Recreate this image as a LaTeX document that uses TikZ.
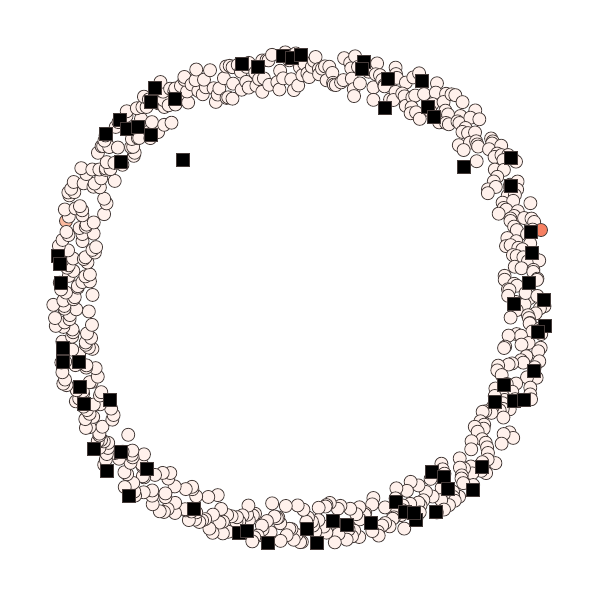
\documentclass[tikz,border=0pt]{standalone}
\usepackage{tikz}

\definecolor{pale}{RGB}{255,241,236}
\definecolor{edge}{RGB}{70,60,58}
\definecolor{hot}{RGB}{246,128,98}
\definecolor{warm}{RGB}{252,185,158}

\tikzset{
  dot/.style={draw=edge, line width=0.45pt, fill=pale},
  hotdot/.style={draw=edge, line width=0.45pt, fill=hot},
  warmdot/.style={draw=edge, line width=0.45pt, fill=warm},
  sq/.style={draw=edge, line width=0.45pt, fill=black}
}

\begin{document}
\begin{tikzpicture}[x=0.02cm, y=-0.02cm]
    \useasboundingbox (0,0) rectangle (600,600);
    % faint ones underneath
    \draw[warmdot] (66,221) circle [radius=6.5];
    \draw[warmdot] (544,306) circle [radius=6.5];
    % the ring, a little squarish
    \pgfmathsetseed{7}
    \foreach \i in {1,...,640} {
        \pgfmathsetmacro\a{(\i-rnd)*0.5625}
        \pgfmathsetmacro\r{(226+20*rand)*(1+0.0275*(1-cos(4*\a)))}
        \draw[dot] ({299+\r*cos(\a)},{298+\r*sin(\a)}) circle [radius=6.5];
    }
    \draw[hotdot] (541,230) circle [radius=6.5];
    % squares
    \foreach \x/\y in {242/64, 258/67, 283/56, 292/58, 301/55, 364/62, 362/69,
        388/79, 422/81, 385/108, 428/107, 434/117,
        155/88, 151/102, 175/99, 120/120, 106/134, 127/129, 138/127, 151/135, 121/162, 183/160,
        464/167, 511/158, 511/186, 531/232, 532/253,
        529/283, 514/304, 544/300, 545/326, 538/332, 534/371, 504/385, 495/402, 514/401, 524/400,
        58/256, 60/264, 61/283, 63/348, 63/362, 79/362, 80/387, 84/404, 110/400,
        94/449, 121/452, 107/471, 147/469, 129/496, 194/509,
        239/533, 247/531, 268/543, 307/529, 317/543, 333/521, 347/525, 371/523,
        432/472, 444/477, 448/489, 473/490, 482/467, 396/502, 405/512, 416/520, 414/513, 436/512}
        \draw[sq] (\x-6.5,\y-6.5) rectangle ++(13,13);
\end{tikzpicture}
\end{document}
